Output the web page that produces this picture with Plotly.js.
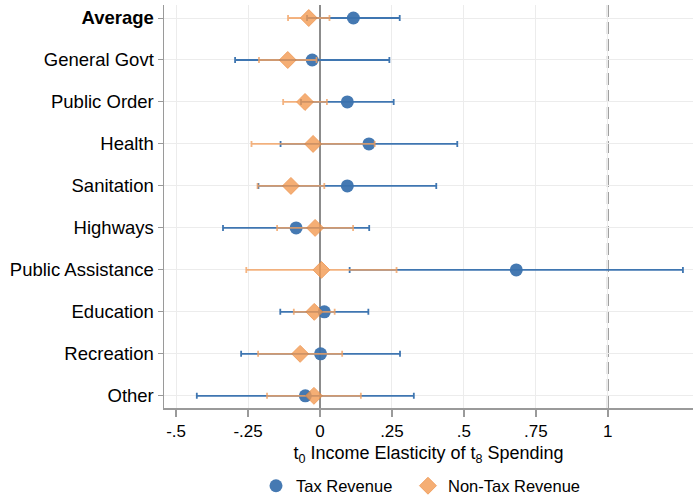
<!DOCTYPE html>
<html>
<head>
<meta charset="utf-8">
<script src="https://cdn.plot.ly/plotly-3.0.1.min.js"></script>
<style>html,body{margin:0;padding:0;background:#fff;}#chart{width:693px;height:500px;}</style>
</head>
<body>
<div id="chart"></div>
<script>
var categories = ["<b>Average</b>", "General Govt", "Public Order", "Health", "Sanitation", "Highways", "Public Assistance", "Education", "Recreation", "Other"];
var taxEst = [0.116, -0.027, 0.095, 0.170, 0.095, -0.083, 0.682, 0.015, 0.002, -0.051];
var taxErr = [0.161, 0.268, 0.161, 0.307, 0.309, 0.254, 0.579, 0.153, 0.276, 0.377];
var nonTaxEst = [-0.039, -0.112, -0.052, -0.024, -0.101, -0.017, 0.005, -0.020, -0.069, -0.021];
var nonTaxErr = [0.072, 0.100, 0.076, 0.214, 0.116, 0.132, 0.261, 0.071, 0.146, 0.163];
var xTickVals = [-0.5, -0.25, 0, 0.25, 0.5, 0.75, 1];
var xTickText = ["-.5", "-.25", "0", ".25", ".5", ".75", "1"];
var refLine = 1;

var font = "Liberation Sans, Arial, Helvetica, sans-serif";

var traces = [
  {
    type: "scatter", mode: "markers", name: "Tax Revenue", legend: "legend",
    x: taxEst, y: categories,
    error_x: {type: "data", array: taxErr, visible: true, color: "#3f76b1", thickness: 1.8, width: 3},
    marker: {symbol: "circle", size: 13, color: "#3b72ae", opacity: 0.95, line: {width: 0}}
  },
  {
    type: "scatter", mode: "markers", name: "Non-Tax Revenue", legend: "legend2",
    x: nonTaxEst, y: categories, opacity: 0.8,
    error_x: {type: "data", array: nonTaxErr, visible: true, color: "#f3a262", thickness: 1.8, width: 3},
    marker: {symbol: "diamond", size: 13, color: "#f39a52", line: {width: 1, color: "#ee8a3c"}}
  }
];

var legendFont = {family: font, size: 16.5, color: "#000"};

var layout = {
  width: 693, height: 500,
  margin: {l: 164, r: 0, t: 5, b: 92},
  paper_bgcolor: "#fff", plot_bgcolor: "#fff",
  font: {family: font, size: 16, color: "#000"},
  showlegend: true,
  legend: {orientation: "h", xref: "container", x: 0.3694, xanchor: "left", yref: "container", y: 0.028, yanchor: "middle",
           font: legendFont, itemwidth: 30},
  legend2: {orientation: "h", xref: "container", x: 0.5887, xanchor: "left", yref: "container", y: 0.028, yanchor: "middle",
           font: legendFont, itemwidth: 30},
  xaxis: {
    automargin: false,
    range: [-0.542, 1.296], tickvals: xTickVals, ticktext: xTickText,
    showgrid: true, gridcolor: "#ececec", gridwidth: 1,
    zeroline: true, zerolinecolor: "#8c8c8c", zerolinewidth: 2,
    showline: true, linecolor: "#9a9a9a", linewidth: 1.5,
    ticks: "outside", ticklen: 7, tickcolor: "#9a9a9a", tickwidth: 1.5,
    tickfont: {family: font, size: 17, color: "#000"},
    title: {text: "t<sub>0</sub> Income Elasticity of t<sub>8</sub> Spending", font: {family: font, size: 18, color: "#000"}, standoff: 6}
  },
  yaxis: {
    automargin: false,
    type: "category", categoryorder: "array", categoryarray: categories,
    range: [9.29, -0.31],
    showgrid: true, gridcolor: "#ececec", gridwidth: 1,
    zeroline: false,
    showline: true, linecolor: "#9a9a9a", linewidth: 1.5,
    ticks: "outside", ticklen: 5, tickcolor: "#9a9a9a", tickwidth: 1,
    tickfont: {family: font, size: 18.5, color: "#000"}
  },
  shapes: [
    {type: "line", xref: "x", yref: "paper", x0: refLine, x1: refLine, y0: 0, y1: 1,
     line: {color: "#8a8a8a", width: 2, dash: "12px,5px"}, layer: "below"}
  ]
};

Plotly.newPlot("chart", traces, layout, {displayModeBar: false, staticPlot: true});
</script>
</body>
</html>
